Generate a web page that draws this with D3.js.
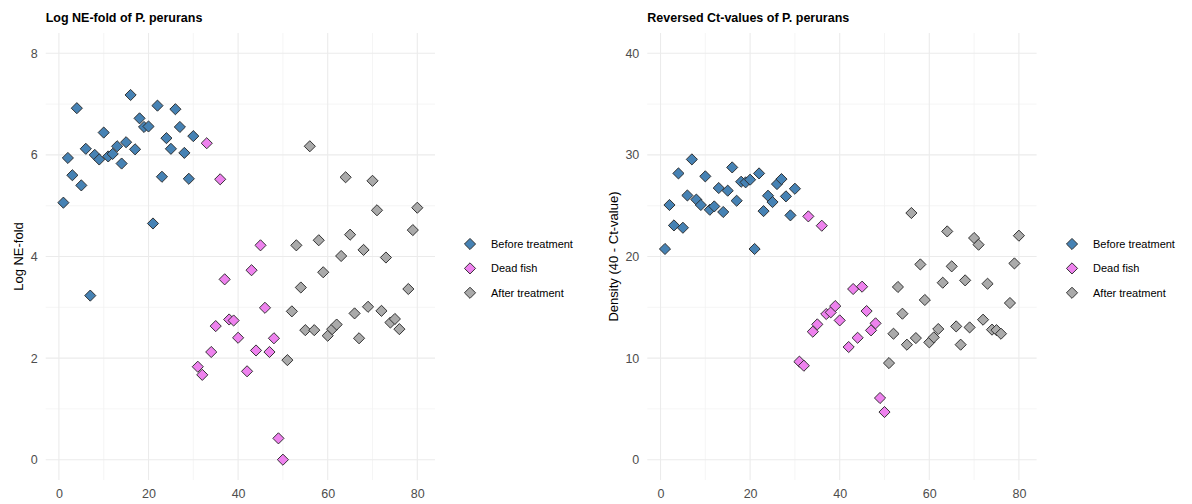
<!DOCTYPE html>
<html>
<head>
<meta charset="utf-8">
<script src="https://cdn.jsdelivr.net/npm/d3@7"></script>
<style>
body{margin:0;background:#fff;}
svg{display:block;font-family:"Liberation Sans",Arial,Helvetica,sans-serif;}
</style>
</head>
<body>
<svg id="chart" width="1192" height="504"></svg>
<script>
// ---- data ----
const sampleIds = [1,2,3,4,5,6,7,8,9,10,11,12,13,14,15,16,17,18,19,20,21,22,23,24,25,26,27,28,29,30,
  31,32,33,34,35,36,37,38,39,40,42,43,44,45,46,47,48,49,50,
  51,52,53,54,55,56,57,58,59,60,61,62,63,64,65,66,67,68,69,70,71,72,73,74,75,76,78,79,80];
const groups = ["Before treatment","Before treatment","Before treatment","Before treatment","Before treatment",
  "Before treatment","Before treatment","Before treatment","Before treatment","Before treatment",
  "Before treatment","Before treatment","Before treatment","Before treatment","Before treatment",
  "Before treatment","Before treatment","Before treatment","Before treatment","Before treatment",
  "Before treatment","Before treatment","Before treatment","Before treatment","Before treatment",
  "Before treatment","Before treatment","Before treatment","Before treatment","Before treatment",
  "Dead fish","Dead fish","Dead fish","Dead fish","Dead fish","Dead fish","Dead fish","Dead fish",
  "Dead fish","Dead fish","Dead fish","Dead fish","Dead fish","Dead fish","Dead fish","Dead fish",
  "Dead fish","Dead fish","Dead fish",
  "After treatment","After treatment","After treatment","After treatment","After treatment",
  "After treatment","After treatment","After treatment","After treatment","After treatment",
  "After treatment","After treatment","After treatment","After treatment","After treatment",
  "After treatment","After treatment","After treatment","After treatment","After treatment",
  "After treatment","After treatment","After treatment","After treatment","After treatment",
  "After treatment","After treatment","After treatment","After treatment"];
const logNEfold = [5.06,5.94,5.60,6.92,5.40,6.12,3.23,6.00,5.91,6.44,5.97,6.02,6.17,5.83,6.25,7.18,6.11,6.72,6.55,6.56,
  4.65,6.97,5.57,6.33,6.12,6.90,6.55,6.04,5.53,6.37,
  1.83,1.67,6.23,2.12,2.63,5.52,3.55,2.76,2.74,2.40,1.74,3.73,2.15,4.22,2.99,2.12,2.39,0.42,0.00,
  1.96,2.92,4.22,3.39,2.55,6.17,2.55,4.32,3.69,2.44,2.57,2.66,4.01,5.56,4.43,2.88,2.39,4.13,3.01,5.49,
  4.91,2.93,3.98,2.70,2.77,2.57,3.36,4.52,4.96];
const reversedCt = [20.74,25.07,23.06,28.18,22.83,26.01,29.56,25.60,25.07,27.89,24.60,24.93,26.74,24.38,26.48,28.77,25.49,27.36,27.30,27.56,
  20.74,28.18,24.47,25.98,25.36,27.13,27.62,25.92,24.05,26.67,
  9.65,9.25,23.95,12.60,13.32,23.03,14.34,14.50,15.12,13.71,11.09,16.80,12.00,17.03,14.63,12.73,13.42,6.07,4.69,
  9.51,12.40,17.00,14.37,11.32,24.28,11.97,19.22,15.72,11.55,12.04,12.86,17.42,22.47,19.03,13.12,11.32,17.65,13.02,21.82,
  21.16,13.78,17.32,12.80,12.75,12.40,15.42,19.32,22.05];
const groupNames = ["Before treatment","Dead fish","After treatment"];
const groupColors = ["#4682B4","#EE82EE","#AAAAAA"];
const xTicks = [0,20,40,60,80];
const xMinor = [10,30,50,70];
const leftYTicks = [0,2,4,6,8];
const leftYMinor = [1,3,5,7];
const rightYTicks = [0,10,20,30,40];
const rightYMinor = [5,15,25,35];

const svg = d3.select("#chart");
const color = d3.scaleOrdinal().domain(groupNames).range(groupColors);
const diamond = d3.symbol().type(d3.symbolSquare).size(62);

function panel(cfg){
  const g = svg.append("g");
  const x = d3.scaleLinear().domain([-2.95, 83.95]).range([cfg.left, cfg.right]);
  const y = d3.scaleLinear().domain(cfg.yDomain).range([480, 33]);
  // minor grid
  g.selectAll(".vmin").data(xMinor).enter().append("line")
    .attr("x1", d=>x(d)).attr("x2", d=>x(d)).attr("y1",33).attr("y2",480)
    .attr("stroke","#F2F2F2").attr("stroke-width",0.8);
  g.selectAll(".hmin").data(cfg.yMinor).enter().append("line")
    .attr("y1", d=>y(d)).attr("y2", d=>y(d)).attr("x1",cfg.left).attr("x2",cfg.right)
    .attr("stroke","#F2F2F2").attr("stroke-width",0.8);
  // major grid
  g.selectAll(".vmaj").data(xTicks).enter().append("line")
    .attr("x1", d=>x(d)).attr("x2", d=>x(d)).attr("y1",33).attr("y2",480)
    .attr("stroke","#EBEBEB").attr("stroke-width",1.1);
  g.selectAll(".hmaj").data(cfg.yTicks).enter().append("line")
    .attr("y1", d=>y(d)).attr("y2", d=>y(d)).attr("x1",cfg.left).attr("x2",cfg.right)
    .attr("stroke","#EBEBEB").attr("stroke-width",1.1);
  // axes (text only)
  const xa = g.append("g").attr("transform","translate(0,483)")
    .call(d3.axisBottom(x).tickValues(xTicks).tickSize(0).tickPadding(6));
  xa.select(".domain").remove();
  xa.selectAll("text").attr("fill","#4D4D4D").style("font-size","12.5px")
    .style("font-family","'Liberation Sans',Arial,sans-serif");
  const ya = g.append("g").attr("transform",`translate(${cfg.left-5},0)`)
    .call(d3.axisLeft(y).tickValues(cfg.yTicks).tickSize(0).tickPadding(3));
  ya.select(".domain").remove();
  ya.selectAll("text").attr("fill","#4D4D4D").style("font-size","12.5px")
    .style("font-family","'Liberation Sans',Arial,sans-serif");
  // y title
  g.append("text").attr("transform",`translate(${cfg.ytitleX},${(33+480)/2}) rotate(-90)`)
    .attr("text-anchor","middle").attr("dy","0.35em").style("font-size","13px").attr("fill","#000")
    .text(cfg.ytitle);
  // title
  g.append("text").attr("x",cfg.left).attr("y",22).style("font-size","12.5px").style("font-weight","bold")
    .attr("fill","#000").text(cfg.title);
  // points
  g.selectAll(".pt").data(sampleIds.map((id,i)=>({id, v: cfg.values[i], grp: groups[i]})))
    .enter().append("path")
    .attr("d", diamond)
    .attr("transform", d=>`translate(${x(d.id)},${y(d.v)}) rotate(45)`)
    .attr("fill", d=>color(d.grp)).attr("stroke","#2b2b2b").attr("stroke-width",0.9);
  // legend
  const lg = g.append("g");
  groupNames.forEach((nm,i)=>{
    const yy = 244 + i*24.4;
    lg.append("path").attr("d", diamond)
      .attr("transform",`translate(${cfg.legX},${yy}) rotate(45)`)
      .attr("fill", color(nm)).attr("stroke","#2b2b2b").attr("stroke-width",0.9);
    lg.append("text").attr("x",cfg.legX+21).attr("y",yy).attr("dy","0.35em")
      .style("font-size","11px").attr("fill","#000").text(nm);
  });
}

panel({left:45.7, right:435, yDomain:[-0.4,8.4], yTicks:leftYTicks, yMinor:leftYMinor,
  values:logNEfold, ytitle:"Log NE-fold", ytitleX:18, title:"Log NE-fold of P. perurans", legX:470});
panel({left:647.3, right:1036.6, yDomain:[-2,42], yTicks:rightYTicks, yMinor:rightYMinor,
  values:reversedCt, ytitle:"Density (40 - Ct-value)", ytitleX:613, title:"Reversed Ct-values of P. perurans", legX:1072});
</script>
</body>
</html>
